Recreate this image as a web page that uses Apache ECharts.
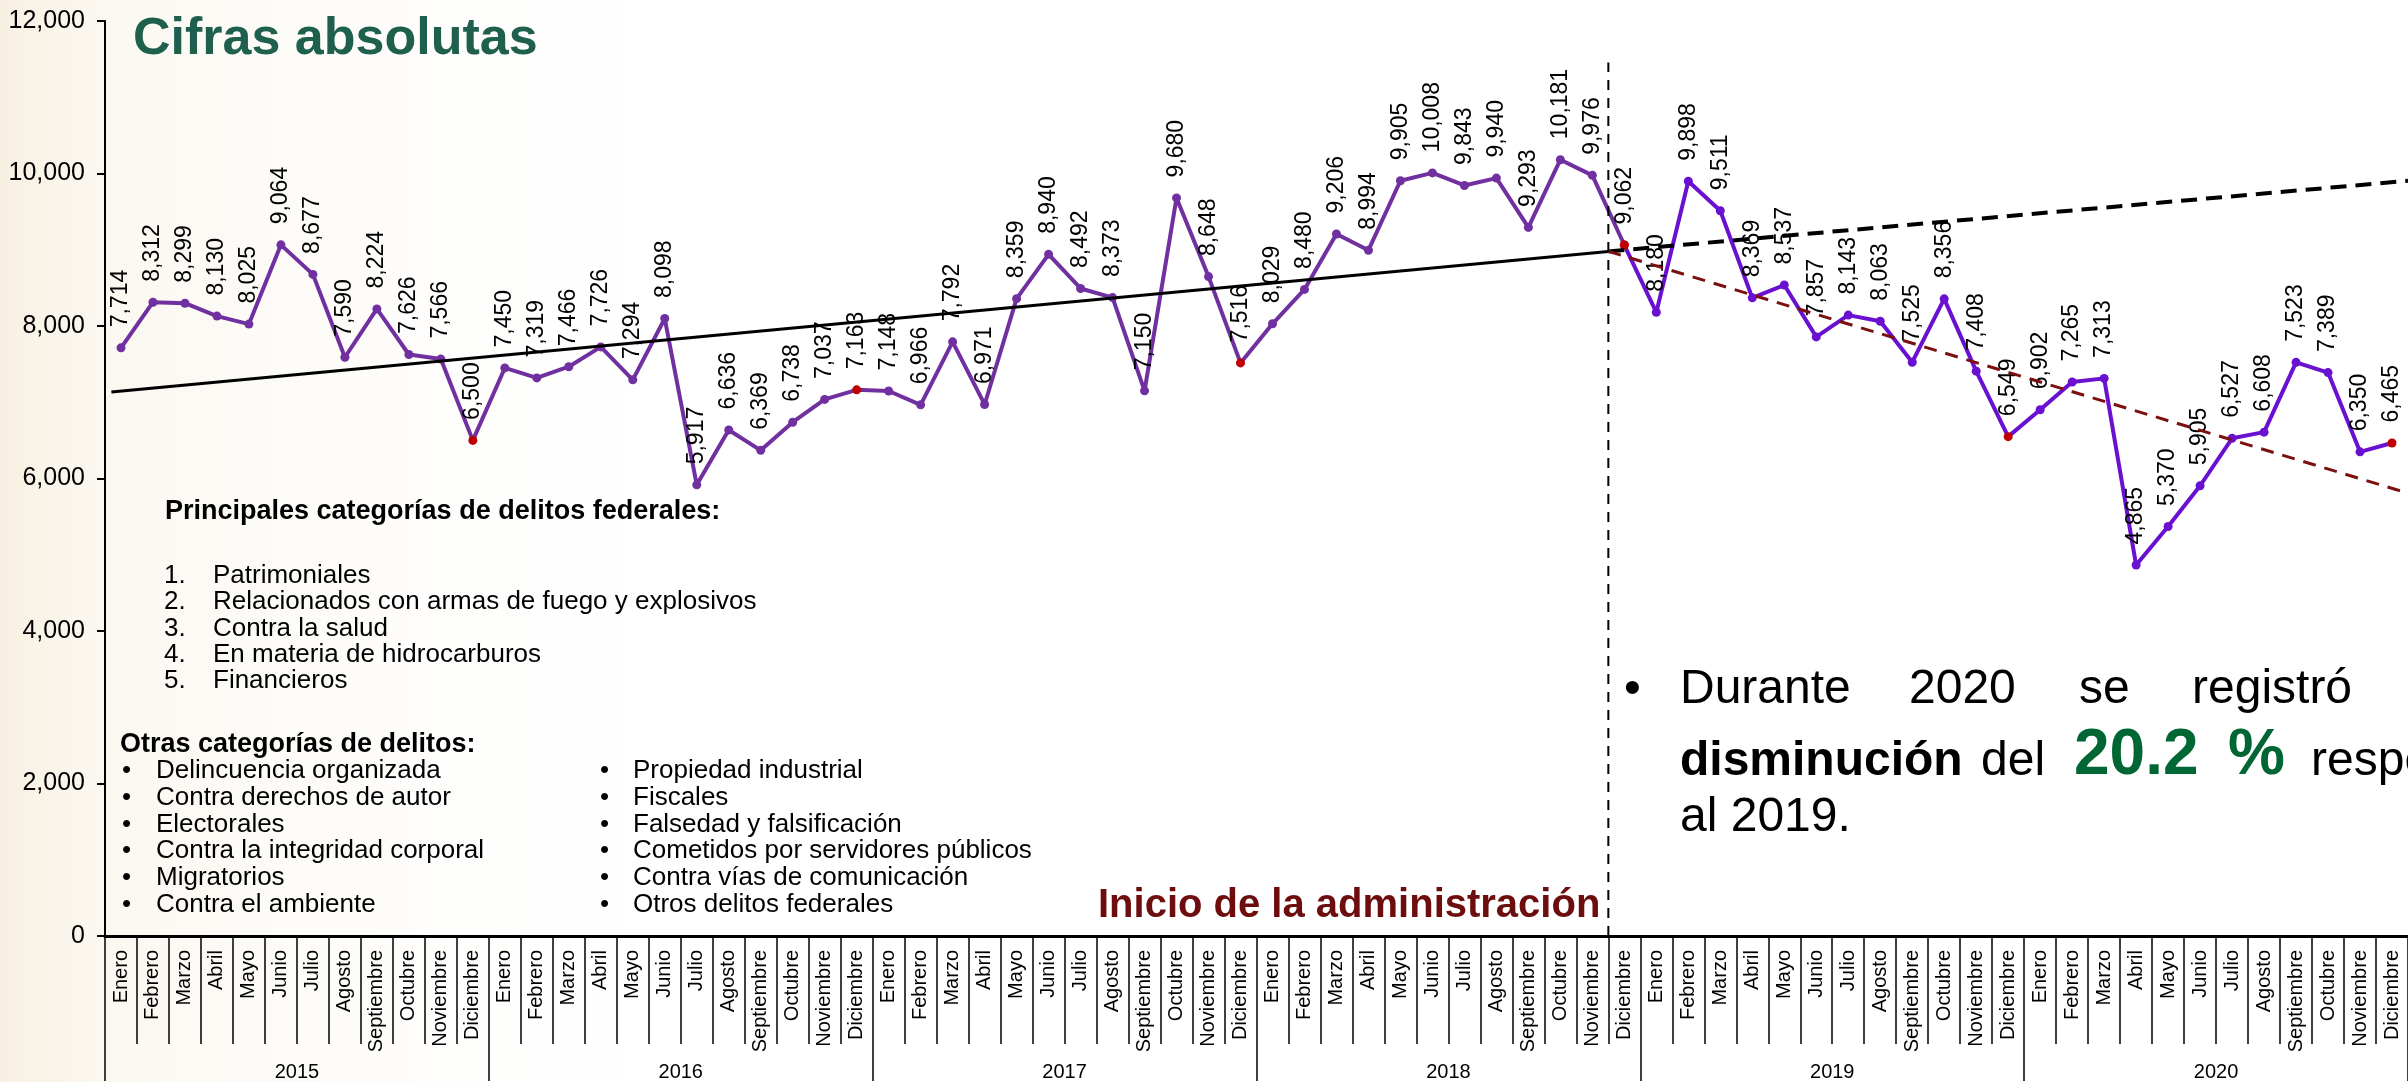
<!DOCTYPE html>
<html>
<head>
<meta charset="utf-8">
<script src="https://cdn.jsdelivr.net/npm/echarts@6.0.0/dist/echarts.min.js"></script>
<style>
  html, body { margin: 0; padding: 0; background: #ffffff; }
  #chart { width: 2408px; height: 1082px; }
</style>
</head>
<body>
<div id="chart"></div>
<script>
// meses y años del eje
var months = ['Enero', 'Febrero', 'Marzo', 'Abril', 'Mayo', 'Junio', 'Julio',
  'Agosto', 'Septiembre', 'Octubre', 'Noviembre', 'Diciembre'];
var years = ['2015', '2016', '2017', '2018', '2019', '2020'];

// delitos federales por mes
var v2015 = [7714, 8312, 8299, 8130, 8025, 9064, 8677, 7590, 8224, 7626, 7566, 6500];
var v2016 = [7450, 7319, 7466, 7726, 7294, 8098, 5917, 6636, 6369, 6738, 7037, 7163];
var v2017 = [7148, 6966, 7792, 6971, 8359, 8940, 8492, 8373, 7150, 9680, 8648, 7516];
var v2018 = [8029, 8480, 9206, 8994, 9905, 10008, 9843, 9940, 9293, 10181, 9976, 9062];
var v2019 = [8180, 9898, 9511, 8369, 8537, 7857, 8143, 8063, 7525, 8356, 7408, 6549];
var v2020 = [6902, 7265, 7313, 4865, 5370, 5905, 6527, 6608, 7523, 7389, 6350, 6465];

// tendencias (posición en meses, valor)
var trendBefore = [[0.2, 7135], [47, 8978]];
var trendProjection = [[47, 8978], [72, 9905]];
var trendAfter = [[47, 8978], [72, 5808]];
var startAdmin = [[47, 0], [47, 11457]];

var yMax = 12000;
var yStep = 2000;

var totals = [].concat(v2015, v2016, v2017, v2018, v2019, v2020);
var categories = [];
years.forEach(function (y) {
  months.forEach(function (m) { categories.push(m); });
});
var split = 47; // Diciembre 2018

var FONT = '"Liberation Sans", Arial, sans-serif';

function point(v, i) {
  var item = { value: v };
  if (i % 12 === 11) item.itemStyle = { color: '#c00000' };
  return item;
}

var dataBefore = totals.map(function (v, i) { return i <= split ? point(v, i) : '-'; });
var dataAfter = totals.map(function (v, i) {
  if (i < split) return '-';
  var p = point(v, i);
  if (i === split) p.label = { show: false };
  return p;
});

var pointLabel = {
  show: true,
  position: 'top',
  rotate: 90,
  align: 'left',
  verticalAlign: 'middle',
  distance: 16,
  fontSize: 23,
  fontFamily: FONT,
  color: '#000',
  formatter: function (p) { return p.value.toLocaleString('en-US'); }
};

function txt(x, y, s, size, opts) {
  opts = opts || {};
  return {
    type: 'text',
    x: x, y: y,
    z: 100,
    style: {
      text: s,
      font: (opts.bold ? 'bold ' : '') + size + 'px ' + FONT,
      fill: opts.color || '#000',
      textAlign: opts.align || 'left',
      textVerticalAlign: 'middle'
    }
  };
}

var principales = ['Patrimoniales', 'Relacionados con armas de fuego y explosivos',
  'Contra la salud', 'En materia de hidrocarburos', 'Financieros'];
var otrasA = ['Delincuencia organizada', 'Contra derechos de autor', 'Electorales',
  'Contra la integridad corporal', 'Migratorios', 'Contra el ambiente'];
var otrasB = ['Propiedad industrial', 'Fiscales', 'Falsedad y falsificación',
  'Cometidos por servidores públicos', 'Contra vías de comunicación', 'Otros delitos federales'];

var graphics = [
  // fondo claro de la plantilla
  {
    type: 'rect', z: -10, silent: true,
    shape: { x: 0, y: 0, width: 760, height: 1082 },
    style: {
      fill: {
        type: 'linear', x: 0, y: 0, x2: 1, y2: 0,
        colorStops: [
          { offset: 0, color: 'rgba(238,222,190,0.45)' },
          { offset: 0.14, color: 'rgba(243,232,210,0.30)' },
          { offset: 1, color: 'rgba(255,255,255,0)' }
        ]
      }
    }
  },
  txt(133, 40, 'Cifras absolutas', 52, { bold: true, color: '#1e5f4e' }),
  txt(165, 512, 'Principales categorías de delitos federales:', 27, { bold: true }),
  txt(120, 745, 'Otras categorías de delitos:', 27, { bold: true }),
  txt(1098, 906, 'Inicio de la administración', 40, { bold: true, color: '#6e0d0d' }),
  // recuadro de la derecha
  txt(1624, 690, '•', 48),
  txt(1680, 690, 'Durante', 48),
  txt(1909, 690, '2020', 48),
  txt(2079, 690, 'se', 48),
  txt(2192, 690, 'registró', 48),
  txt(1680, 762, 'disminución', 48, { bold: true }),
  txt(1981, 762, 'del', 48),
  txt(2074, 756, '20.2', 64, { bold: true, color: '#006633' }),
  txt(2228, 756, '%', 64, { bold: true, color: '#006633' }),
  txt(2311, 762, 'respecto', 48),
  txt(1680, 818, 'al 2019.', 48)
];
principales.forEach(function (s, i) {
  graphics.push(txt(164, 576 + i * 26.2, (i + 1) + '.', 26));
  graphics.push(txt(213, 576 + i * 26.2, s, 26));
});
otrasA.forEach(function (s, i) {
  graphics.push(txt(122, 771 + i * 26.7, '•', 26));
  graphics.push(txt(156, 771 + i * 26.7, s, 26));
});
otrasB.forEach(function (s, i) {
  graphics.push(txt(600, 771 + i * 26.7, '•', 26));
  graphics.push(txt(633, 771 + i * 26.7, s, 26));
});

var chart = echarts.init(document.getElementById('chart'));

var option = {
  backgroundColor: '#ffffff',
  animation: false,
  grid: { left: 105, right: 0, top: 21, bottom: 141 },
  xAxis: [
    {
      type: 'category',
      data: categories,
      boundaryGap: true,
      axisLine: { lineStyle: { color: '#000', width: 3 } },
      axisTick: { show: true, interval: 0, length: 108, lineStyle: { color: '#000', width: 1.5 } },
      axisLabel: {
        interval: 0, rotate: 90, margin: 14,
        fontSize: 20, fontFamily: FONT, color: '#000'
      },
      splitLine: { show: false }
    },
    {
      type: 'category',
      data: years,
      position: 'bottom',
      boundaryGap: true,
      axisLine: { show: false },
      axisTick: { show: true, interval: 0, length: 145, lineStyle: { color: '#000', width: 1.5 } },
      axisLabel: { interval: 0, margin: 126, fontSize: 20, fontFamily: FONT, color: '#000' },
      splitLine: { show: false }
    },
    {
      type: 'value',
      min: 0,
      max: 72,
      show: false
    }
  ],
  yAxis: {
    type: 'value',
    min: 0,
    max: yMax,
    interval: yStep,
    axisLine: { show: true, lineStyle: { color: '#000', width: 2 } },
    axisTick: { show: true, length: 8, lineStyle: { color: '#000', width: 2 } },
    axisLabel: {
      margin: 20, fontSize: 25, fontFamily: FONT, color: '#000',
      formatter: function (v) { return v.toLocaleString('en-US'); }
    },
    splitLine: { show: false }
  },
  series: [
    {
      name: 'Hasta 2018',
      type: 'line',
      data: dataBefore,
      symbol: 'circle',
      symbolSize: 9,
      lineStyle: { color: '#7030a0', width: 4 },
      itemStyle: { color: '#7030a0' },
      label: pointLabel,
      z: 3
    },
    {
      name: 'Desde 2019',
      type: 'line',
      data: dataAfter,
      symbol: 'circle',
      symbolSize: 9,
      lineStyle: { color: '#6a10d0', width: 4 },
      itemStyle: { color: '#6a10d0' },
      label: pointLabel,
      z: 3
    },
    {
      name: 'Tendencia 2015-2018',
      type: 'line',
      xAxisIndex: 2,
      data: trendBefore,
      symbol: 'none',
      silent: true,
      lineStyle: { color: '#000', width: 3 },
      z: 4
    },
    {
      name: 'Proyección',
      type: 'line',
      xAxisIndex: 2,
      data: trendProjection,
      symbol: 'none',
      silent: true,
      lineStyle: { color: '#000', width: 4, type: [16, 9] },
      z: 4
    },
    {
      name: 'Tendencia 2019-2020',
      type: 'line',
      xAxisIndex: 2,
      data: trendAfter,
      symbol: 'none',
      silent: true,
      lineStyle: { color: '#7b1010', width: 3, type: [13, 9] },
      z: 4
    },
    {
      name: 'Inicio',
      type: 'line',
      xAxisIndex: 2,
      data: startAdmin,
      symbol: 'none',
      silent: true,
      lineStyle: { color: '#000', width: 2, type: [10, 8] },
      z: 4
    }
  ],
  graphic: graphics
};

chart.setOption(option);
</script>
</body>
</html>
